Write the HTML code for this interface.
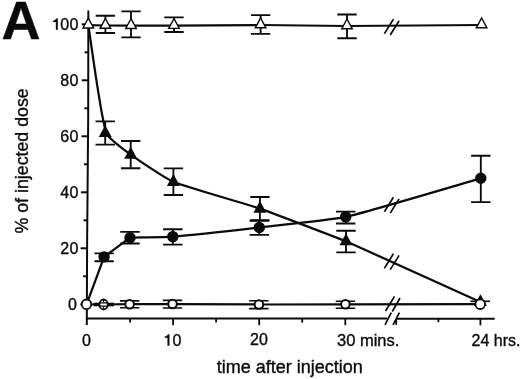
<!DOCTYPE html><html><head><meta charset="utf-8"><style>html,body{margin:0;padding:0;background:#fff}svg{display:block;will-change:transform}text{font-family:"Liberation Sans",sans-serif;fill:#0b0b0b;stroke:#0b0b0b;stroke-width:0.35px}</style></head><body>
<svg width="520" height="379" viewBox="0 0 520 379">
<rect width="520" height="379" fill="#fff"/>
<g stroke="#0b0b0b" stroke-width="2" fill="none" stroke-linecap="butt">
<path d="M88.35 10.4L88.20 117L87.10 244L86.80 325" stroke-linejoin="round"/>
<path d="M86.3 318.6H387.3"/>
<path d="M396 318.70000000000005H494.7"/>
<path d="M80.4 304.3H86.9"/>
<path d="M83.2 276.3H87.0"/>
<path d="M80.6 248.3H87.1"/>
<path d="M83.5 220.3H87.3"/>
<path d="M81.0 192.3H87.5"/>
<path d="M84.0 164.3H87.8"/>
<path d="M81.5 136.3H88.0"/>
<path d="M84.4 108.3H88.2"/>
<path d="M81.8 80.3H88.3"/>
<path d="M84.5 52.3H88.3"/>
<path d="M81.8 24.3H88.3"/>
<path d="M130.1 318.6V322.6" stroke-width="1.8"/>
<path d="M173.1 318.6V325.20000000000005" stroke-width="1.8"/>
<path d="M216.1 318.6V322.6" stroke-width="1.8"/>
<path d="M259.2 318.6V325.20000000000005" stroke-width="1.8"/>
<path d="M302.2 318.6V322.6" stroke-width="1.8"/>
<path d="M345.3 318.6V325.20000000000005" stroke-width="1.8"/>
<path d="M438.4 318.6V322.20000000000005" stroke-width="1.8"/>
<path d="M480.4 318.6V325.40000000000003" stroke-width="1.8"/>
</g>
<g stroke="#0b0b0b" stroke-width="2.25" fill="none" stroke-linejoin="round">
<path d="M88.3 25.2 L105.4 25.5 L131.0 25.7 L174.0 25.6 L260.6 25.0 L347.0 26.0 L481.6 25.0"/>
<path d="M105.4 15.7V33.0M95.7 15.7H115.1M95.7 33.0H115.1" stroke-width="1.85"/>
<path d="M131.0 11.4V37.4M121.3 11.4H140.7M121.3 37.4H140.7" stroke-width="1.85"/>
<path d="M174.0 17.4V32.0M164.3 17.4H183.7M164.3 32.0H183.7" stroke-width="1.85"/>
<path d="M260.6 15.1V33.9M250.9 15.1H270.3M250.9 33.9H270.3" stroke-width="1.85"/>
<path d="M347.0 14.5V38.2M337.3 14.5H356.7M337.3 38.2H356.7" stroke-width="1.85"/>
<path d="M88.3 25.2 C91.3 43.5 100.4 115.2 106.2 132.8 C107.9 138.1 126.2 151.3 130.7 154.6 C137.7 159.7 165.5 178.5 173.4 181.8 C187.6 187.7 245.3 203.6 259.9 208.6 C274.7 213.7 331.4 235.7 346.0 241.2 L480.4 302.0"/>
<path d="M105.2 121.4V144.6M95.5 121.4H114.9M95.5 144.6H114.9" stroke-width="1.85"/>
<path d="M130.7 141.0V168.2M121.0 141.0H140.4M121.0 168.2H140.4" stroke-width="1.85"/>
<path d="M173.4 168.4V195.0M163.7 168.4H183.1M163.7 195.0H183.1" stroke-width="1.85"/>
<path d="M259.9 197.0V220.2M250.2 197.0H269.6M250.2 220.2H269.6" stroke-width="1.85"/>
<path d="M346.0 230.7V252.4M336.3 230.7H355.7M336.3 252.4H355.7" stroke-width="1.85"/>
<path d="M86.6 304.3 L104.1 256.9 L130.0 237.7 C136.4 237.5 166.4 237.1 172.8 236.6 C185.8 235.6 246.3 229.0 259.3 227.5 C272.3 226.0 333.0 219.7 345.7 216.9 C366.3 212.3 460.5 184.1 480.8 178.3"/>
<path d="M104.1 253.3V261.2M94.4 253.3H113.8M94.4 261.2H113.8" stroke-width="1.85"/>
<path d="M130.0 231.9V243.5M120.3 231.9H139.7M120.3 243.5H139.7" stroke-width="1.85"/>
<path d="M172.8 229.2V244.6M163.1 229.2H182.5M163.1 244.6H182.5" stroke-width="1.85"/>
<path d="M259.3 220.7V234.9M249.6 220.7H269.0M249.6 234.9H269.0" stroke-width="1.85"/>
<path d="M345.7 211.6V223.5M336.0 211.6H355.4M336.0 223.5H355.4" stroke-width="1.85"/>
<path d="M480.8 155.7V202.1M471.1 155.7H490.5M471.1 202.1H490.5" stroke-width="1.85"/>
<path d="M86.5 304.3 L103.6 304.5 L129.6 304.2 L172.5 304.0 L258.9 304.5 L345.4 304.3 L480.2 304.2"/>
<path d="M129.6 300.9V307.7M119.9 300.9H139.3M119.9 307.7H139.3" stroke-width="1.6"/>
<path d="M172.5 300.4V308.0M162.8 300.4H182.2M162.8 308.0H182.2" stroke-width="1.6"/>
<path d="M258.9 300.7V308.6M249.2 300.7H268.6M249.2 308.6H268.6" stroke-width="1.6"/>
<path d="M345.4 301.3V308.2M335.7 301.3H355.1M335.7 308.2H355.1" stroke-width="1.6"/>
<path d="M470.3 301.3H490" stroke-width="1.6"/>
<path d="M93.8 304.5H114" stroke-width="3.6"/>
</g>
<path d="M384.4 33.6L393.4 19.2M390.2 35.0L399.1 20.8" stroke="#0b0b0b" stroke-width="1.7" fill="none"/>
<path d="M384.4 211.7L393.4 197.3M390.2 213.1L399.1 198.9" stroke="#0b0b0b" stroke-width="1.7" fill="none"/>
<path d="M384.4 268.2L393.4 253.8M390.2 269.6L399.1 255.4" stroke="#0b0b0b" stroke-width="1.7" fill="none"/>
<path d="M385.5 311.0L394.5 296.4M392.3 311.5L400.0 298.0" stroke="#0b0b0b" stroke-width="1.7" fill="none"/>
<path d="M385.0 324.8L391.3 312.6M393.0 324.8L399.4 312.6M396.2 319.0L396.2 325.0" stroke="#0b0b0b" stroke-width="1.7" fill="none"/>
<path d="M105.2 126.6L110.5 136.4H99.9Z" fill="#0b0b0b" stroke="#0b0b0b" stroke-width="1.4" stroke-linejoin="miter"/>
<path d="M130.7 148.2L136.0 158.0H125.4Z" fill="#0b0b0b" stroke="#0b0b0b" stroke-width="1.4" stroke-linejoin="miter"/>
<path d="M173.4 175.4L178.7 185.2H168.1Z" fill="#0b0b0b" stroke="#0b0b0b" stroke-width="1.4" stroke-linejoin="miter"/>
<path d="M259.9 202.2L265.2 212.0H254.6Z" fill="#0b0b0b" stroke="#0b0b0b" stroke-width="1.4" stroke-linejoin="miter"/>
<path d="M346.0 234.8L351.3 244.6H340.7Z" fill="#0b0b0b" stroke="#0b0b0b" stroke-width="1.4" stroke-linejoin="miter"/>
<path d="M480.4 295.6L485.7 305.4H475.1Z" fill="#0b0b0b" stroke="#0b0b0b" stroke-width="1.4" stroke-linejoin="miter"/>
<path d="M88.3 18.2L93.6 28.0H83.0Z" fill="#fff" stroke="#0b0b0b" stroke-width="1.4" stroke-linejoin="miter"/>
<path d="M105.4 18.5L110.7 28.3H100.1Z" fill="#fff" stroke="#0b0b0b" stroke-width="1.4" stroke-linejoin="miter"/>
<path d="M131.0 18.7L136.3 28.5H125.7Z" fill="#fff" stroke="#0b0b0b" stroke-width="1.4" stroke-linejoin="miter"/>
<path d="M174.0 18.6L179.3 28.4H168.7Z" fill="#fff" stroke="#0b0b0b" stroke-width="1.4" stroke-linejoin="miter"/>
<path d="M260.6 18.0L265.9 27.8H255.3Z" fill="#fff" stroke="#0b0b0b" stroke-width="1.4" stroke-linejoin="miter"/>
<path d="M347.0 19.0L352.3 28.8H341.7Z" fill="#fff" stroke="#0b0b0b" stroke-width="1.4" stroke-linejoin="miter"/>
<path d="M481.6 18.0L486.9 27.8H476.3Z" fill="#fff" stroke="#0b0b0b" stroke-width="1.4" stroke-linejoin="miter"/>
<circle cx="104.1" cy="256.9" r="5.0" fill="#0b0b0b" stroke="#0b0b0b" stroke-width="1.4"/>
<circle cx="130.0" cy="237.7" r="5.0" fill="#0b0b0b" stroke="#0b0b0b" stroke-width="1.4"/>
<circle cx="172.8" cy="236.6" r="5.0" fill="#0b0b0b" stroke="#0b0b0b" stroke-width="1.4"/>
<circle cx="259.3" cy="227.5" r="5.0" fill="#0b0b0b" stroke="#0b0b0b" stroke-width="1.4"/>
<circle cx="345.7" cy="216.9" r="5.0" fill="#0b0b0b" stroke="#0b0b0b" stroke-width="1.4"/>
<circle cx="480.8" cy="178.3" r="5.0" fill="#0b0b0b" stroke="#0b0b0b" stroke-width="1.4"/>
<circle cx="86.5" cy="304.3" r="4.8" fill="#fff" stroke="#0b0b0b" stroke-width="1.8"/>
<ellipse cx="103.6" cy="304.5" rx="4.2" ry="5.0" fill="#fff" stroke="#0b0b0b" stroke-width="1.8"/>
<path d="M103.6 300.0V302.5M103.6 306.5V309.0" stroke="#0b0b0b" stroke-width="1.1"/>
<path d="M100.0 302.8H107.19999999999999M100.0 306.2H107.19999999999999" stroke="#0b0b0b" stroke-width="1.3"/>
<circle cx="129.6" cy="304.2" r="4.3" fill="#fff" stroke="#0b0b0b" stroke-width="2.0"/>
<circle cx="172.5" cy="304.0" r="4.3" fill="#fff" stroke="#0b0b0b" stroke-width="2.0"/>
<circle cx="258.9" cy="304.5" r="4.3" fill="#fff" stroke="#0b0b0b" stroke-width="2.0"/>
<circle cx="345.4" cy="304.3" r="4.3" fill="#fff" stroke="#0b0b0b" stroke-width="2.0"/>
<circle cx="480.2" cy="304.2" r="4.8" fill="#fff" stroke="#0b0b0b" stroke-width="1.8"/>
<text x="1.4" y="38.9" font-size="54" font-weight="bold" stroke="none">A</text>
<text x="77.0" y="309.7" font-size="16" text-anchor="end" letter-spacing="0.2">0</text>
<text x="78.5" y="253.7" font-size="16" text-anchor="end" letter-spacing="0.2">20</text>
<text x="78.5" y="197.7" font-size="16" text-anchor="end" letter-spacing="0.2">40</text>
<text x="78.5" y="141.7" font-size="16" text-anchor="end" letter-spacing="0.2">60</text>
<text x="78.5" y="85.7" font-size="16" text-anchor="end" letter-spacing="0.2">80</text>
<text x="78.5" y="29.7" font-size="16" text-anchor="end" letter-spacing="0.2">00</text>
<path d="M57.70 18.60V29.70H56.00V21.90H53.20V20.70C54.50 20.60 55.70 19.90 56.45 18.60Z" fill="#0b0b0b" stroke="#0b0b0b" stroke-width="0.3"/>
<text x="86.5" y="345.6" font-size="16" text-anchor="middle">0</text>
<text x="177.0" y="345.6" font-size="16" text-anchor="middle">0</text>
<path d="M169.30 334.50V345.60H167.60V337.80H164.80V336.60C166.10 336.50 167.30 335.80 168.05 334.50Z" fill="#0b0b0b" stroke="#0b0b0b" stroke-width="0.3"/>
<text x="259.0" y="345.4" font-size="16" text-anchor="middle">20</text>
<text x="337" y="345.5" font-size="16.5">30 mins.</text>
<text x="471.5" y="345.5" font-size="16">24 hrs.</text>
<text x="289.7" y="373.1" font-size="18" text-anchor="middle">time after injection</text>
<text transform="translate(27.6 160.9) rotate(-90)" font-size="17.8" text-anchor="middle">% of injected dose</text>
</svg></body></html>
